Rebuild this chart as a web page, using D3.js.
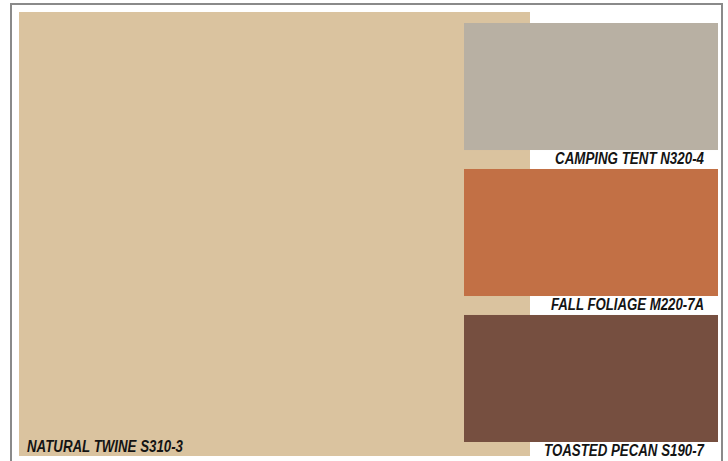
<!DOCTYPE html>
<html>
<head>
<meta charset="utf-8">
<script src="https://cdn.jsdelivr.net/npm/d3@7"></script>
<style>
  body { margin: 0; background: #fff; }
  svg { display: block; }
  .label {
    font-family: "Liberation Sans Narrow", "Liberation Sans", Arial, sans-serif;
    font-weight: bold;
    font-style: italic;
    font-size: 16px;
    fill: #141414;
  }
</style>
</head>
<body>
<svg id="chart" width="728" height="461"></svg>
<script>
// palette data
const baseName = 'NATURAL TWINE S310-3';
const baseColor = '#dac39f';
const accentNames = ['CAMPING TENT N320-4', 'FALL FOLIAGE M220-7A', 'TOASTED PECAN S190-7'];
const accentColors = ['#b8b0a3', '#c27045', '#764f40'];

// rendered width of each label (condensed type)
const baseLabelWidth = 156;
const accentLabelWidths = [149, 153, 160];

const svg = d3.select('#chart');

// frame
svg.append('rect')
  .attr('x', 11)
  .attr('y', 4)
  .attr('width', 711)
  .attr('height', 470)
  .attr('fill', '#fff')
  .attr('stroke', '#8a8a8a')
  .attr('stroke-width', 2);

// big base swatch
svg.append('rect')
  .attr('x', 19)
  .attr('y', 12)
  .attr('width', 511)
  .attr('height', 444)
  .attr('fill', baseColor);

svg.append('text')
  .attr('class', 'label')
  .attr('x', 27)
  .attr('y', 452)
  .attr('textLength', baseLabelWidth)
  .attr('lengthAdjust', 'spacingAndGlyphs')
  .text(baseName);

// accent swatches stacked on the right
let y = d3.scaleBand()
  .domain(accentNames)
  .range([23, 442])
  .paddingInner(0.13);

let x = d3.scaleLinear().domain([0, 1]).range([464, 718]);

let g = svg.selectAll('.swatch')
  .data(accentNames)
  .enter()
  .append('g')
  .attr('class', 'swatch');

// white strip behind each label
g.append('rect')
  .attr('x', 530)
  .attr('y', d => y(d) + y.bandwidth())
  .attr('width', 188)
  .attr('height', 20)
  .attr('fill', '#fff');

g.append('rect')
  .attr('x', x(0))
  .attr('y', d => y(d))
  .attr('width', x(1) - x(0))
  .attr('height', y.bandwidth())
  .attr('fill', (d, i) => accentColors[i]);

g.append('text')
  .attr('class', 'label')
  .attr('x', 704)
  .attr('y', d => y(d) + y.bandwidth() + 14)
  .attr('text-anchor', 'end')
  .attr('textLength', (d, i) => accentLabelWidths[i])
  .attr('lengthAdjust', 'spacingAndGlyphs')
  .text(d => d);
</script>
</body>
</html>
